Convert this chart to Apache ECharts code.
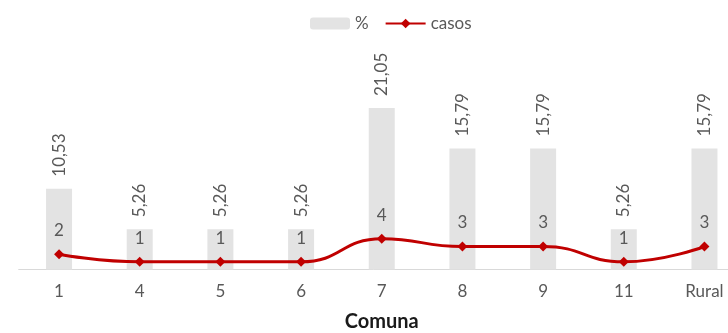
<!DOCTYPE html>
<html>
<head>
<meta charset="utf-8">
<script src="https://cdn.jsdelivr.net/npm/echarts@6/dist/echarts.min.js"></script>
<style>html,body{margin:0;padding:0;background:#fff}#c{width:728px;height:333px}</style>
</head>
<body>
<div id="c"></div>
<script>
const categories = ['1','4','5','6','7','8','9','11','Rural'];
const percentValues = [10.53, 5.26, 5.26, 5.26, 21.05, 15.79, 15.79, 5.26, 15.79];
const casosValues = [2, 1, 1, 1, 4, 3, 3, 1, 3];

const fmt = v => String(v.toFixed(2)).replace('.', ',');
const chart = echarts.init(document.getElementById('c'), null, {renderer: 'canvas'});
chart.setOption({
  animation: false,
  textStyle: {fontFamily: 'Lato'},
  legend: {
    top: 10, left: 305,
    itemWidth: 40, itemHeight: 12, itemGap: 16,
    textStyle: {color: '#595959', fontSize: 17, fontFamily: 'Lato'},
    data: ['%', 'casos']
  },
  grid: {left: 18.7, right: -16.8, top: 77.75, bottom: 63.5, containLabel: false, outerBoundsMode: 'none'},
  xAxis: {
    type: 'category', data: categories,
    axisLine: {lineStyle: {color: '#d9d9d9'}},
    axisTick: {show: false},
    axisLabel: {color: '#595959', fontSize: 17, margin: 14, fontFamily: 'Lato'},
    name: 'Comuna', nameLocation: 'middle', nameGap: 42,
    nameTextStyle: {color: '#1a1a1a', fontSize: 20, fontWeight: 'bold', fontFamily: 'Lato'}
  },
  yAxis: {type: 'value', min: 0, max: 25, show: false, splitLine: {show: false}},
  series: [
    {
      name: '%', type: 'bar', data: percentValues, barWidth: 26,
      itemStyle: {color: '#e3e3e3'},
      label: {
        show: true, position: 'top', rotate: 90, align: 'left', verticalAlign: 'middle',
        distance: 12, color: '#595959', fontSize: 17, fontFamily: 'Lato',
        formatter: p => fmt(p.value)
      }
    },
    {
      name: 'casos', type: 'line', data: casosValues, smooth: 0.5,
      symbol: 'diamond', symbolSize: 10,
      lineStyle: {color: '#c00000', width: 3},
      itemStyle: {color: '#c00000'},
      label: {show: true, position: 'top', distance: 10, color: '#595959', fontSize: 17, fontFamily: 'Lato'}
    }
  ]
});
</script>
</body>
</html>
